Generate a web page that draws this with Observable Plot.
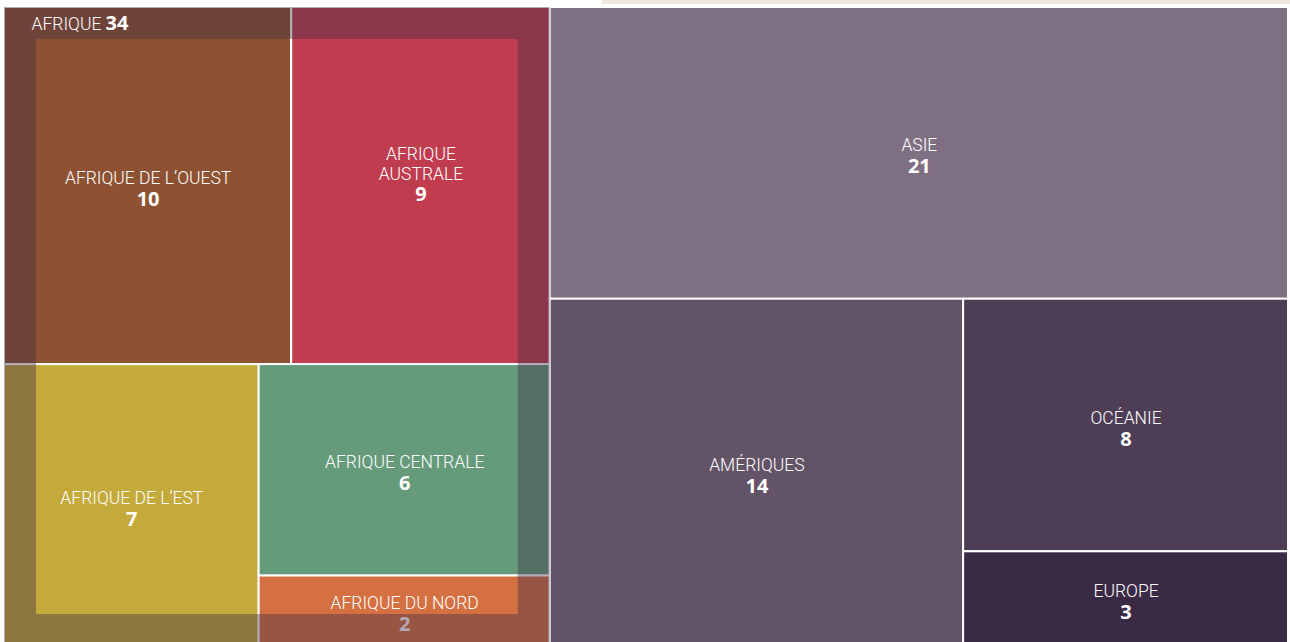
<!DOCTYPE html>
<html>
<head>
<meta charset="utf-8">
<script src="https://cdn.jsdelivr.net/npm/d3@7"></script>
<script src="https://cdn.jsdelivr.net/npm/@observablehq/plot@0.6"></script>
<style>
  html, body { margin: 0; padding: 0; background: #ffffff; overflow: hidden; }
  #wrap { position: relative; width: 1290px; height: 642px; }
  #strip { position: absolute; left: 602px; top: 0; width: 688px; height: 4px; background: #efe6e1; }
  #chart { position: absolute; left: 0; top: 0; }
  #chart svg { overflow: visible; }
</style>
</head>
<body>
<div id="wrap"><div id="strip"></div><div id="chart"></div></div>
<script>
// ---- data ----
const groupName = "AFRIQUE";
const africaLabels = ["AFRIQUE DE L’OUEST", "AFRIQUE\nAUSTRALE", "AFRIQUE DE L’EST", "AFRIQUE CENTRALE", "AFRIQUE DU NORD"];
const africaValues = [10, 9, 7, 6, 2];
const africaColors = ["#8e5233", "#bf3d4f", "#c4a93b", "#659b7a", "#d47041"];
const otherLabels = ["ASIE", "AMÉRIQUES", "OCÉANIE", "EUROPE"];
const otherValues = [21, 14, 8, 3];
const otherColors = ["#7e7082", "#625366", "#4e3e55", "#3b2a45"];
const overlayColor = "#3f2d47";

// ---- hierarchy ----
const tree = {
  name: "root",
  children: [
    {name: groupName, children: africaLabels.map((n, i) => ({name: n, value: africaValues[i], color: africaColors[i]}))},
    ...otherLabels.map((n, i) => ({name: n, value: otherValues[i], color: otherColors[i]}))
  ]
};

function worstRatio(row, sum, dir, dx, dy, value) {
  let worst = 0;
  if (dir === 0) {
    const w = dx * sum / value;
    for (const n of row) { const h = dy * n.value / sum; worst = Math.max(worst, w / h, h / w); }
  } else {
    const h = dy * sum / value;
    for (const n of row) { const w = dx * n.value / sum; worst = Math.max(worst, w / h, h / w); }
  }
  return worst;
}

// alternating strip tiling
function tile(parent, x0, y0, x1, y1) {
  let dir = parent.depth % 2;
  const nodes = parent.children;
  let i = 0, value = parent.value;
  while (i < nodes.length) {
    const dx = x1 - x0, dy = y1 - y0;
    let row = [nodes[i]], sum = nodes[i].value;
    let worst = worstRatio(row, sum, dir, dx, dy, value);
    let j = i + 1;
    while (j < nodes.length) {
      const cand = row.concat(nodes[j]);
      const s = sum + nodes[j].value;
      const r = worstRatio(cand, s, dir, dx, dy, value);
      if (r < worst && r <= 1.5) { row = cand; sum = s; worst = r; j++; } else break;
    }
    if (dir === 0) {
      const w = dx * sum / value; let y = y0;
      for (const n of row) { n.x0 = x0; n.x1 = x0 + w; n.y0 = y; y += dy * n.value / sum; n.y1 = y; }
      x0 += w;
    } else {
      const h = dy * sum / value; let x = x0;
      for (const n of row) { n.y0 = y0; n.y1 = y0 + h; n.x0 = x; x += dx * n.value / sum; n.x1 = x; }
      y0 += h;
    }
    value -= sum; i = j; dir = 1 - dir;
  }
}

const W = 1284, H = 639;
const root = d3.treemap().size([W, H]).tile(tile).round(false)(
  d3.hierarchy(tree).sum(d => d.value || 0)
);
const leaves = root.leaves();
const group = root.children.filter(d => d.children);

const cx = d => (d.x0 + d.x1) / 2;
const cy = d => (d.y0 + d.y1) / 2;
const nLines = d => d.data.name.split("\n").length;

const nameFont = {fontFamily: "Roboto", fontWeight: 300, fontSize: 17.5};
const valueFont = {fontFamily: "Open Sans", fontWeight: 700, fontSize: 20};

const chart = Plot.plot({
  width: 1290,
  height: 642,
  margin: 0,
  x: {domain: [0, W], range: [4, 1288], axis: null},
  y: {domain: [0, H], range: [7, 646], axis: null},
  color: {type: "identity"},
  marks: [
    Plot.rect(leaves, {
      x1: d => d.x0, x2: d => d.x1, y1: d => d.y0, y2: d => d.y1,
      fill: d => d.data.color, stroke: "white", strokeWidth: 2
    }),
    Plot.text(leaves, {
      x: cx, y: cy, text: d => d.data.name,
      lineAnchor: "bottom", lineHeight: 1.15,
      dy: -2, fill: "white", ...nameFont,
      filter: d => nLines(d) === 1
    }),
    Plot.text(leaves, {
      x: cx, y: cy, text: d => d.data.name,
      lineAnchor: "bottom", lineHeight: 1.15,
      dy: -6, fill: "white", ...nameFont,
      filter: d => nLines(d) > 1
    }),
    Plot.text(leaves, {
      x: cx, y: cy, text: d => String(d.value),
      lineAnchor: "bottom", dy: 20, fill: "white", ...valueFont,
      filter: d => nLines(d) === 1
    }),
    Plot.text(leaves, {
      x: cx, y: cy, text: d => String(d.value),
      lineAnchor: "bottom", dy: 15, fill: "white", ...valueFont,
      filter: d => nLines(d) > 1
    }),
    Plot.rect(group, {
      x1: d => d.x0, x2: d => d.x1, y1: d => d.y0, y2: d => d.y1,
      fill: "none", stroke: overlayColor, strokeOpacity: 0.4, strokeWidth: 32, inset: 16
    }),
    Plot.text(group, {
      x: d => d.x0, y: d => d.y0, text: d => d.data.name,
      textAnchor: "start", lineAnchor: "bottom", dx: 27, dy: 22, fill: "white", ...nameFont
    }),
    Plot.text(group, {
      x: d => d.x0, y: d => d.y0, text: d => String(d.value),
      textAnchor: "start", lineAnchor: "bottom", dx: 101, dy: 22, fill: "white", ...valueFont
    })
  ]
});
document.getElementById("chart").appendChild(chart);
</script>
</body>
</html>
